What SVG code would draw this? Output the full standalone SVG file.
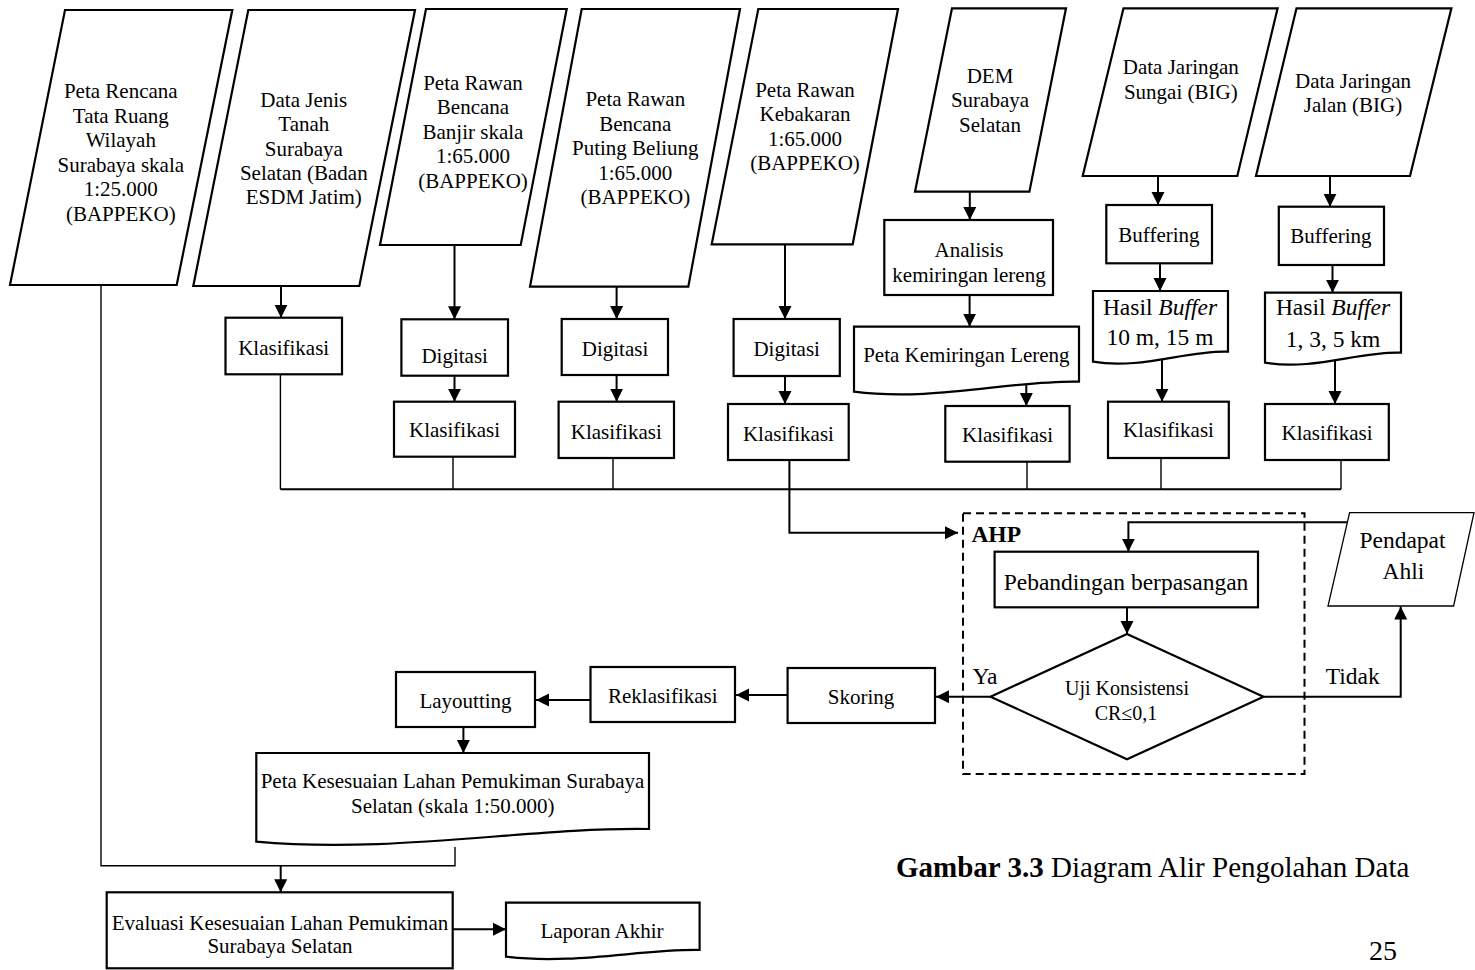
<svg xmlns="http://www.w3.org/2000/svg" width="1475" height="970" viewBox="0 0 1475 970">
<defs>
<marker id="ah" markerUnits="userSpaceOnUse" markerWidth="14" markerHeight="14" refX="13" refY="6.5" orient="auto"><path d="M0,0 L13,6.5 L0,13 z" fill="#000"/></marker>
<style>
.s{fill:#fff;stroke:#000;stroke-width:2.2;stroke-linejoin:miter}
.sn{fill:#fff;stroke:#000;stroke-width:1.3}
.t{font-family:"Liberation Serif","Times New Roman",serif;font-size:21px;text-anchor:middle;fill:#000}
.tb{font-size:23.5px}
.a{fill:none;stroke:#000;stroke-width:2;marker-end:url(#ah)}
.l{fill:none;stroke:#000;stroke-width:1.4}
.lt{fill:none;stroke:#000;stroke-width:2}
.d{fill:none;stroke:#000;stroke-width:2;stroke-dasharray:8,5}
</style>
</defs>
<rect width="1475" height="970" fill="#fff"/>

<g id="connectors">
<path class="a" d="M281,286 V317.7"/>
<path class="a" d="M454.5,245 V319.3"/>
<path class="a" d="M454.5,375.7 V401.7"/>
<path class="a" d="M616.6,286.7 V319"/>
<path class="a" d="M616.6,375 V401.7"/>
<path class="a" d="M785,244.3 V319"/>
<path class="a" d="M785,376 V404"/>
<path class="a" d="M969.8,191.7 V220"/>
<path class="a" d="M969.6,295 V326.7"/>
<path class="a" d="M1026.3,385 V406"/>
<path class="a" d="M1158,176 V205"/>
<path class="a" d="M1160,263.3 V291"/>
<path class="a" d="M1162,356 V401.7"/>
<path class="a" d="M1330,176 V206.7"/>
<path class="a" d="M1332.5,265 V292.7"/>
<path class="a" d="M1335,357 V404"/>
<path class="l" d="M280.4,374.3 V489.3"/>
<path class="l" d="M453,456.7 V489.3"/>
<path class="l" d="M613,458 V489.3"/>
<path class="l" d="M1027,461.7 V489.3"/>
<path class="l" d="M1161,458 V489.3"/>
<path class="l" d="M1341,460 V489.3"/>
<path class="lt" d="M280.4,489.3 H1341"/>
<path class="a" d="M789.4,460 V532.7 H958"/>
<path class="a" d="M1347.4,522.3 H1128.4 V551.7"/>
<path class="a" d="M1127,607.3 V634"/>
<path class="a" d="M1263.5,696.7 H1400.7 V606.5"/>
<path class="a" d="M990.5,696.7 H936"/>
<path class="a" d="M787.6,695 H736"/>
<path class="a" d="M590.5,700 H536"/>
<path class="a" d="M463.4,727 V753"/>
<path class="l" d="M101,285 V865.7 H455 V847"/>
<path class="a" d="M280.7,865.7 V892.3"/>
<path class="a" d="M452.7,929.3 H506"/>
</g>

<g id="n-rtrw">
<polygon class="s" points="65,10 232.3,10 176.7,285 10,285"/>
<text class="t" x="120.8"><tspan x="120.8" y="98">Peta Rencana</tspan><tspan x="120.8" y="122.5">Tata Ruang</tspan><tspan x="120.8" y="147">Wilayah</tspan><tspan x="120.8" y="171.5">Surabaya skala</tspan><tspan x="120.8" y="196">1:25.000</tspan><tspan x="120.8" y="220.5">(BAPPEKO)</tspan></text>
</g>
<g id="n-tanah">
<polygon class="s" points="248.3,10 415,10 359.3,286 193.3,286"/>
<text class="t"><tspan x="303.8" y="106.5">Data Jenis</tspan><tspan x="303.8" y="131">Tanah</tspan><tspan x="303.8" y="155.5">Surabaya</tspan><tspan x="303.8" y="180">Selatan (Badan</tspan><tspan x="303.8" y="204">ESDM Jatim)</tspan></text>
</g>
<g id="n-banjir">
<polygon class="s" points="426,9 566.7,9 520.7,245 380,245"/>
<text class="t"><tspan x="473" y="89.5">Peta Rawan</tspan><tspan x="473" y="114">Bencana</tspan><tspan x="473" y="138.5">Banjir skala</tspan><tspan x="473" y="163">1:65.000</tspan><tspan x="473" y="187.5">(BAPPEKO)</tspan></text>
</g>
<g id="n-puting">
<polygon class="s" points="581.7,9 740,9 688.3,286.7 530,286.7"/>
<text class="t"><tspan x="635.3" y="106">Peta Rawan</tspan><tspan x="635.3" y="130.5">Bencana</tspan><tspan x="635.3" y="155">Puting Beliung</tspan><tspan x="635.3" y="179.5">1:65.000</tspan><tspan x="635.3" y="204">(BAPPEKO)</tspan></text>
</g>
<g id="n-kebakaran">
<polygon class="s" points="758.3,9 898,9 852.7,244.3 711.7,244.3"/>
<text class="t"><tspan x="805" y="96.5">Peta Rawan</tspan><tspan x="805" y="121">Kebakaran</tspan><tspan x="805" y="145.5">1:65.000</tspan><tspan x="805" y="170">(BAPPEKO)</tspan></text>
</g>
<g id="n-dem">
<polygon class="s" points="952,8.3 1066,8.3 1029.4,191.7 915,191.7"/>
<text class="t"><tspan x="990" y="82.5">DEM</tspan><tspan x="990" y="107">Surabaya</tspan><tspan x="990" y="131.5">Selatan</tspan></text>
</g>
<g id="n-sungai">
<polygon class="s" points="1123.5,8.3 1277.6,8.3 1237.3,176 1082.7,176"/>
<text class="t"><tspan x="1180.8" y="74">Data Jaringan</tspan><tspan x="1180.8" y="98.5">Sungai (BIG)</tspan></text>
</g>
<g id="n-jalan">
<polygon class="s" points="1296.5,8.3 1451.4,8.3 1410,176 1256,176"/>
<text class="t"><tspan x="1353" y="87.5">Data Jaringan</tspan><tspan x="1353" y="112">Jalan (BIG)</tspan></text>
</g>

<g id="n-klas-tanah"><rect class="s" x="225.5" y="317.7" width="116.5" height="56.6"/><text class="t" x="283.7" y="355">Klasifikasi</text></g>
<g id="n-dig-banjir"><rect class="s" x="401.4" y="319.3" width="106.6" height="56.4"/><text class="t" x="454.7" y="363.3">Digitasi</text></g>
<g id="n-klas-banjir"><rect class="s" x="394" y="401.7" width="121" height="55"/><text class="t" x="454.5" y="436.7">Klasifikasi</text></g>
<g id="n-dig-puting"><rect class="s" x="561.7" y="319" width="106.3" height="56"/><text class="t" x="615" y="356">Digitasi</text></g>
<g id="n-klas-puting"><rect class="s" x="558.6" y="401.7" width="115.4" height="56.3"/><text class="t" x="616.3" y="439.3">Klasifikasi</text></g>
<g id="n-dig-keb"><rect class="s" x="733.6" y="319" width="106.2" height="57"/><text class="t" x="786.7" y="356">Digitasi</text></g>
<g id="n-klas-keb"><rect class="s" x="728" y="404" width="120.7" height="56"/><text class="t" x="788.4" y="440.7">Klasifikasi</text></g>
<g id="n-analisis"><rect class="s" x="884.3" y="220" width="168.7" height="75"/><text class="t"><tspan x="969" y="256.7">Analisis</tspan><tspan x="969" y="281.7">kemiringan lereng</tspan></text></g>
<g id="n-peta-kem"><path class="s" d="M854,326.7 H1079 V381.7 C1012,380 933,402 854,391.7 Z"/><text class="t" x="966.4" y="361.7">Peta Kemiringan Lereng</text></g>
<g id="n-klas-dem"><rect class="s" x="945.3" y="406" width="124.3" height="55.7"/><text class="t" x="1007.5" y="441.7">Klasifikasi</text></g>
<g id="n-buf-sungai"><rect class="s" x="1106.3" y="205" width="105.7" height="58.3"/><text class="t" x="1159" y="241.7">Buffering</text></g>
<g id="n-hasil-sungai"><path class="s" d="M1093,291 H1228 V351.7 C1188,350 1140,370 1093,361.7 Z"/><text class="t tb"><tspan x="1160" y="315">Hasil <tspan font-style="italic">Buffer</tspan></tspan><tspan x="1160" y="345">10 m, 15 m</tspan></text></g>
<g id="n-klas-sungai"><rect class="s" x="1108" y="401.7" width="120.8" height="56.3"/><text class="t" x="1168.4" y="437">Klasifikasi</text></g>
<g id="n-buf-jalan"><rect class="s" x="1278.8" y="206.7" width="105.2" height="58.3"/><text class="t" x="1331" y="243.3">Buffering</text></g>
<g id="n-hasil-jalan"><path class="s" d="M1265,292.7 H1401 V352.7 C1360,351 1313,371 1265,362.7 Z"/><text class="t tb"><tspan x="1333" y="315">Hasil <tspan font-style="italic">Buffer</tspan></tspan><tspan x="1333" y="346.7">1, 3, 5 km</tspan></text></g>
<g id="n-klas-jalan"><rect class="s" x="1265" y="404" width="123.8" height="56"/><text class="t" x="1327" y="440">Klasifikasi</text></g>

<g id="n-ahp">
<rect class="d" x="963" y="513.3" width="341.5" height="260.7"/>
<text class="t tb" x="971.4" y="541.7" text-anchor="start" font-weight="bold" style="text-anchor:start">AHP</text>
</g>
<g id="n-pebandingan"><rect class="s" x="994.6" y="551.7" width="263.4" height="55.6"/><text class="t tb" x="1126" y="590">Pebandingan berpasangan</text></g>
<g id="n-uji"><polygon class="s" points="1127,634 1263.5,696.7 1127,759.3 990.5,696.7"/><text class="t" style="font-size:20px"><tspan x="1127" y="695">Uji Konsistensi</tspan><tspan x="1126" y="720">CR≤0,1</tspan></text></g>
<g id="n-pendapat"><polygon class="sn" points="1349.6,512.7 1474,512.7 1453.6,606 1328,606"/><text class="t tb"><tspan x="1402.5" y="548">Pendapat</tspan><tspan x="1403.5" y="579">Ahli</tspan></text></g>
<g id="lbl-ya"><text class="t tb" x="972.4" y="684" style="text-anchor:start">Ya</text></g>
<g id="lbl-tidak"><text class="t tb" x="1325.7" y="684" style="text-anchor:start">Tidak</text></g>

<g id="n-skoring"><rect class="s" x="787.6" y="668" width="147.4" height="55"/><text class="t" x="861" y="704">Skoring</text></g>
<g id="n-reklas"><rect class="s" x="590.5" y="667" width="144.5" height="55"/><text class="t" x="662.8" y="703">Reklasifikasi</text></g>
<g id="n-layout"><rect class="s" x="396" y="672" width="139" height="55"/><text class="t" x="465.5" y="708">Layoutting</text></g>
<g id="n-peta-kes"><path class="s" d="M256.3,753 H649 V829 C531,827 394,854 256.3,841.7 Z"/><text class="t"><tspan x="452.5" y="788">Peta Kesesuaian Lahan Pemukiman Surabaya</tspan><tspan x="452.8" y="813">Selatan (skala 1:50.000)</tspan></text></g>
<g id="n-evaluasi"><rect class="s" x="106.7" y="892.3" width="346" height="76"/><text class="t"><tspan x="280" y="930">Evaluasi Kesesuaian Lahan Pemukiman</tspan><tspan x="280" y="953.3">Surabaya Selatan</tspan></text></g>
<g id="n-laporan"><path class="s" d="M506,902.7 H699.6 V950 C641.6,949 574,965 506,956.7 Z"/><text class="t" x="602" y="938">Laporan Akhir</text></g>

<g id="caption">
<text x="896" y="876.7" style="font-family:'Liberation Serif','Times New Roman',serif;font-size:29px;fill:#000"><tspan font-weight="bold">Gambar 3.3</tspan> Diagram Alir Pengolahan Data</text>
<text x="1369" y="960" style="font-family:'Liberation Serif','Times New Roman',serif;font-size:28px;fill:#000">25</text>
</g>
</svg>
